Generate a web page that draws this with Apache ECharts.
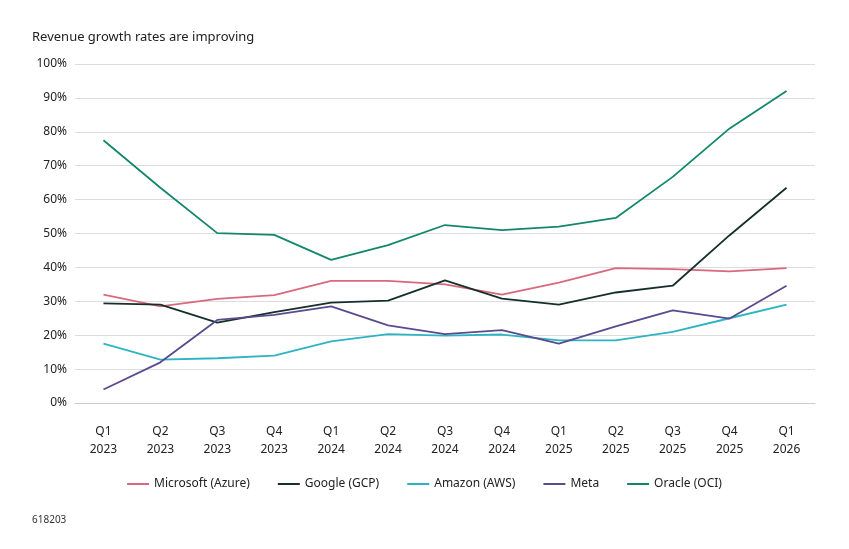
<!DOCTYPE html><html><head><meta charset="utf-8"><script src="https://cdn.jsdelivr.net/npm/echarts@6/dist/echarts.min.js"></script></head><body style="margin:0;background:#fff"><div id="c" style="width:849px;height:549px"></div><script>
const categories=["Q1\n2023","Q2\n2023","Q3\n2023","Q4\n2023","Q1\n2024","Q2\n2024","Q3\n2024","Q4\n2024","Q1\n2025","Q2\n2025","Q3\n2025","Q4\n2025","Q1\n2026"];
const microsoft=[32,28.5,30.7,31.8,36,36,35,32,35.5,39.8,39.5,38.8,39.8];
const google=[29.4,29,23.7,26.8,29.6,30.2,36.2,30.8,29,32.6,34.6,49.5,63.5];
const amazon=[17.5,12.8,13.2,14,18.2,20.3,19.9,20.2,18.5,18.5,21,25,29];
const meta=[4,12,24.5,26,28.5,22.9,20.3,21.5,17.5,22.6,27.3,24.9,34.6];
const oracle=[77.5,63.5,50.1,49.6,42.2,46.6,52.5,51,52,54.6,66.7,81,92];
const names=["Microsoft (Azure)","Google (GCP)","Amazon (AWS)","Meta","Oracle (OCI)"];
const colors=["#d9687e","#15302b","#2db4c2","#5a4a8e","#12876b"];
const data=[microsoft,google,amazon,meta,oracle];
const ff="Noto Sans";
echarts.init(document.getElementById('c')).setOption({
animation:false,textStyle:{fontFamily:ff},color:colors,
title:[{text:"Revenue growth rates are improving",left:27,top:26,textStyle:{fontSize:13,fontWeight:"normal",color:"#222",fontFamily:ff}},
{text:"618203",left:27,top:510,textStyle:{fontSize:10,fontWeight:"normal",color:"#333",fontFamily:ff}}],
legend:{bottom:54,left:"center",itemWidth:22,itemHeight:2,itemGap:28,icon:"rect",textStyle:{fontSize:12,color:"#222"},data:names},
grid:{left:75,right:34,top:64,bottom:146},
xAxis:{type:"category",boundaryGap:true,data:categories,axisTick:{show:false},axisLine:{lineStyle:{color:"#ccc"}},axisLabel:{color:"#222",fontSize:12,margin:20,lineHeight:18}},
yAxis:{type:"value",min:0,max:100,interval:10,axisLabel:{formatter:"{value}%",color:"#222",fontSize:12},splitLine:{lineStyle:{color:"#ddd"}}},
series:data.map((d,i)=>({name:names[i],type:"line",data:d,symbol:"none",lineStyle:{width:1.8}}))
});
</script></body></html>
